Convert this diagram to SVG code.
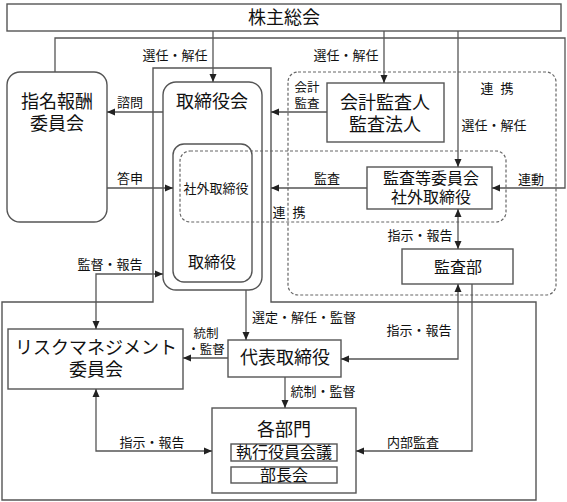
<svg xmlns="http://www.w3.org/2000/svg" width="567" height="502" viewBox="0 0 567 502">
<style>
text{font-family:"Liberation Sans","Noto Sans CJK JP",sans-serif;fill:#111;text-anchor:middle;dominant-baseline:central}
.b{font-size:18px}.m{font-size:16px}.s{font-size:13px}.t{font-size:12.5px}
.box{fill:#fff;stroke:#555;stroke-width:1.4}
.frame{fill:none;stroke:#555;stroke-width:1.4}
.dash{fill:none;stroke:#666;stroke-width:1.2;stroke-dasharray:3 2}
.ln{fill:none;stroke:#555;stroke-width:1.3}
</style>
<defs>
<marker id="ah" viewBox="0 0 8 8" refX="8" refY="4" markerWidth="8" markerHeight="8" markerUnits="userSpaceOnUse" orient="auto-start-reverse"><path d="M0,0.5 L8,4 L0,7.5 Z" fill="#222"/></marker>
</defs>
<g id="frames">
<path class="frame" d="M2,302 H153 V68 H271 V302 H536 V500 H2 Z"/>
<rect class="dash" x="288" y="72" width="268" height="223" rx="10"/>
</g>
<g id="kabunushi"><rect class="box" x="7" y="4" width="554" height="27"/><text class="b" x="284" y="18">株主総会</text></g>
<g id="shimei"><rect class="box" x="7" y="72" width="100" height="150" rx="13"/><text class="b" x="57" y="102">指名報酬</text><text class="b" x="57" y="124">委員会</text></g>
<g id="torishimariyakukai"><rect class="box" x="163" y="82" width="99" height="208" rx="13"/><text class="b" x="212" y="102">取締役会</text></g>
<g id="torishimariyaku"><rect class="box" x="173" y="144" width="79" height="138" rx="11"/><text class="m" x="212" y="262">取締役</text></g>
<g id="shagai-group"><rect class="dash" x="180" y="151" width="326" height="71" rx="10"/><text class="s" x="216" y="188">社外取締役</text></g>
<g id="kaikei"><rect class="box" x="327" y="83" width="117" height="59"/><text class="b" x="385" y="103">会計監査人</text><text class="b" x="385" y="125">監査法人</text></g>
<g id="kansatou"><rect class="box" x="367" y="167" width="125" height="42"/><text class="m" x="431" y="178">監査等委員会</text><text class="m" x="431" y="197">社外取締役</text></g>
<g id="kansabu"><rect class="box" x="402" y="249" width="111" height="35"/><text class="m" x="458" y="267">監査部</text></g>
<g id="risk"><rect class="box" x="8" y="329" width="175" height="60"/><text class="b" x="96" y="348">リスクマネジメント</text><text class="b" x="96" y="370">委員会</text></g>
<g id="daihyo"><rect class="box" x="228" y="340" width="113" height="37"/><text class="b" x="285" y="358">代表取締役</text></g>
<g id="kakubumon"><rect class="box" x="212" y="408" width="144" height="85"/><text class="b" x="284" y="430">各部門</text>
<rect class="box" x="231" y="444" width="106" height="17"/><text class="m" x="284" y="452">執行役員会議</text>
<rect class="box" x="231" y="467" width="106" height="16"/><text class="m" x="284" y="475">部長会</text></g>
<g id="connectors">
<path class="ln" d="M213,31 V82" marker-end="url(#ah)"/>
<path class="ln" d="M384,31 V83" marker-end="url(#ah)"/>
<path class="ln" d="M458,31 V167" marker-end="url(#ah)"/>
<path class="ln" d="M55,72 V38 H565 V188 H492" marker-end="url(#ah)"/>
<path class="ln" d="M163,112 H107" marker-end="url(#ah)"/>
<path class="ln" d="M327,112 H271" marker-end="url(#ah)"/>
<path class="ln" d="M107,188 H173" marker-end="url(#ah)"/>
<path class="ln" d="M367,188 H271" marker-end="url(#ah)"/>
<path class="ln" d="M458,209 V249" marker-start="url(#ah)" marker-end="url(#ah)"/>
<path class="ln" d="M163,274 H96 V329" marker-start="url(#ah)" marker-end="url(#ah)"/>
<path class="ln" d="M246,290 V340" marker-end="url(#ah)"/>
<path class="ln" d="M228,358 H183" marker-end="url(#ah)"/>
<path class="ln" d="M285,377 V408" marker-end="url(#ah)"/>
<path class="ln" d="M458,284 V359 H341" marker-start="url(#ah)" marker-end="url(#ah)"/>
<path class="ln" d="M472,284 V451 H356" marker-end="url(#ah)"/>
<path class="ln" d="M96,389 V451 H212" marker-start="url(#ah)" marker-end="url(#ah)"/>
</g>
<g id="labels">
<text class="s" x="175" y="55">選任・解任</text>
<text class="s" x="346" y="55">選任・解任</text>
<text class="s" x="130" y="102">諮問</text>
<text class="t" x="307" y="88">会計</text>
<text class="t" x="307" y="104">監査</text>
<text class="s" x="487" y="88">連</text><text class="s" x="507" y="88">携</text>
<text class="s" x="494" y="125">選任・解任</text>
<text class="s" x="130" y="178">答申</text>
<text class="s" x="327" y="178">監査</text>
<text class="s" x="531" y="179">連動</text>
<text class="s" x="279" y="212">連</text><text class="s" x="299" y="212">携</text>
<text class="s" x="420" y="235">指示・報告</text>
<text class="s" x="110" y="264">監督・報告</text>
<text class="s" x="252" y="317" style="text-anchor:start">選定・解任・監督</text>
<text class="s" x="419" y="330">指示・報告</text>
<text class="t" x="206" y="334">統制</text>
<text class="t" x="206" y="350">・監督</text>
<text class="s" x="323" y="391">統制・監督</text>
<text class="s" x="152" y="442">指示・報告</text>
<text class="s" x="413" y="442">内部監査</text>
</g>
</svg>
